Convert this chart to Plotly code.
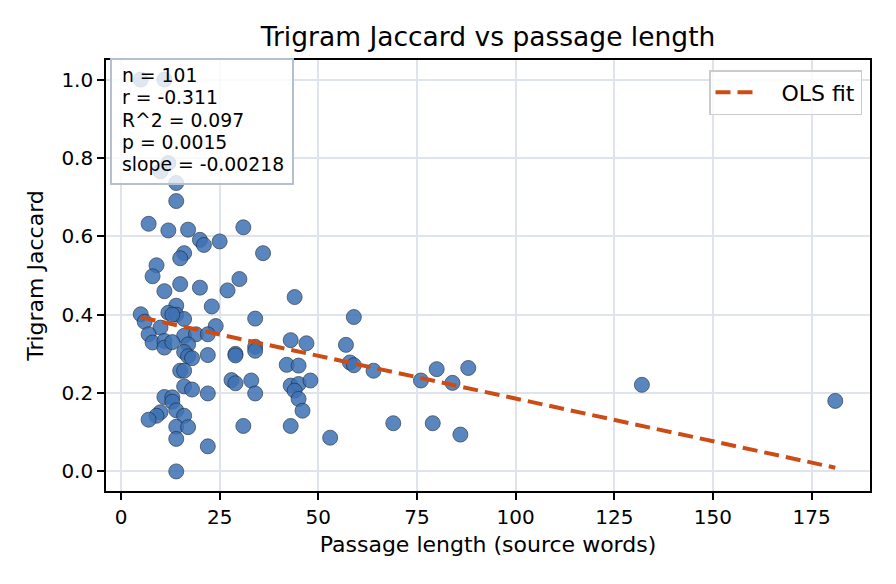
import plotly.graph_objects as go

# Passage length (source words) and trigram Jaccard
passage_length = [5, 11, 12, 10, 14, 14, 7, 12, 17, 31, 20, 21, 25, 36, 16, 15, 9, 8, 30, 15,
                  20, 27, 11, 44, 23, 14, 12, 14, 5, 16, 34, 59, 6, 10, 24, 7, 16, 19, 22, 8,
                  11, 11, 13, 17, 43, 47, 57, 34, 34, 16, 29, 29, 17, 18, 22, 42, 45, 58, 59, 64,
                  88, 80, 76, 84, 132, 15, 16, 28, 29, 33, 43, 45, 48, 44, 16, 18, 22, 34, 11, 13,
                  13, 14, 10, 9, 7, 16, 14, 17, 14, 22, 14, 31, 43, 53, 69, 79, 86, 45, 46, 181,
                  13]
trigram_jaccard = [1.00, 1.00, 0.787, 0.766, 0.736, 0.690, 0.632, 0.615, 0.617, 0.623,
                   0.591, 0.578, 0.587, 0.557, 0.557, 0.544, 0.526, 0.498, 0.491, 0.478,
                   0.469, 0.462, 0.460, 0.445, 0.421, 0.423, 0.405, 0.400, 0.401, 0.389,
                   0.390, 0.394, 0.382, 0.367, 0.371, 0.350, 0.346, 0.350, 0.350, 0.329,
                   0.333, 0.316, 0.330, 0.324, 0.335, 0.327, 0.323, 0.318, 0.308, 0.305,
                   0.300, 0.296, 0.294, 0.289, 0.297, 0.272, 0.270, 0.278, 0.271, 0.257,
                   0.264, 0.261, 0.232, 0.226, 0.221, 0.257, 0.257, 0.233, 0.225, 0.232,
                   0.219, 0.223, 0.232, 0.206, 0.217, 0.209, 0.199, 0.199, 0.190, 0.189,
                   0.178, 0.156, 0.151, 0.142, 0.132, 0.142, 0.114, 0.113, 0.083, 0.064,
                   0.000, 0.116, 0.116, 0.086, 0.123, 0.123, 0.094, 0.185, 0.155, 0.180,
                   0.400]

# OLS fit parameters (from the stats box / line)
fit_slope = -0.00218
fit_intercept = 0.404

stats_lines = ["n = 101", "r = -0.311", "R^2 = 0.097", "p = 0.0015", "slope = -0.00218"]

x_ticks = [0, 25, 50, 75, 100, 125, 150, 175]
y_ticks = [0.0, 0.2, 0.4, 0.6, 0.8, 1.0]

FONT = "DejaVu Sans"

# plot-area geometry (pixels) used to place the stats box
W, H = 896, 584
ML, MR, MT, MB = 106, 26, 60, 93
PW, PH = W - ML - MR, H - MT - MB


def px_x(px):
    return (px - ML) / PW


def px_y(py):
    return (H - MB - py) / PH


fit_x = [min(passage_length), max(passage_length)]
fit_y = [fit_intercept + fit_slope * v for v in fit_x]

fig = go.Figure()
fig.add_trace(go.Scatter(
    x=passage_length, y=trigram_jaccard, mode="markers",
    marker=dict(size=15, color="#3d72b4", opacity=0.85,
                line=dict(color="#1f2d40", width=0.8)),
    showlegend=False, hoverinfo="x+y",
))
fig.add_trace(go.Scatter(
    x=fit_x, y=fit_y, mode="lines", name="\u00a0\u00a0\u00a0OLS fit",
    line=dict(color="#cc4c16", width=4, dash="15px,7px"),
))

axis_common = dict(
    showline=True, linecolor="black", linewidth=1.6, mirror=True,
    ticks="outside", ticklen=7, tickwidth=1.6, tickcolor="black",
    showgrid=True, gridcolor="#dfe4ec", gridwidth=1.5, zeroline=False,
    tickfont=dict(family=FONT, size=20, color="black"),
)

# stats box: a rectangle drawn above the markers plus one text line each
stats_box = dict(type="rect", xref="paper", yref="paper", layer="above",
                 x0=px_x(111), x1=px_x(293), y0=px_y(184), y1=px_y(59),
                 fillcolor="rgba(255,255,255,0.8)",
                 line=dict(color="#b4c0d0", width=2))
line_y = [75, 97.5, 120, 142.5, 165]
stats_annots = [dict(text=t, xref="paper", yref="paper", x=px_x(120), y=px_y(yy),
                     xanchor="left", yanchor="middle", showarrow=False,
                     font=dict(family=FONT, size=18.8, color="black"))
                for t, yy in zip(stats_lines, line_y)]

fig.update_layout(
    width=W, height=H,
    margin=dict(l=ML, r=MR, t=MT, b=MB),
    paper_bgcolor="white", plot_bgcolor="white",
    title=dict(text="Trigram Jaccard vs passage length", x=0.5, xref="paper",
               y=1 - 37 / H, yref="container", xanchor="center", yanchor="middle",
               font=dict(family=FONT, size=26.5, color="black")),
    xaxis=dict(axis_common, range=[-3.8, 189.8], tickvals=x_ticks,
               title=dict(text="Passage length (source words)", standoff=9,
                          font=dict(family=FONT, size=22, color="black"))),
    yaxis=dict(axis_common, range=[-0.05, 1.05], tickvals=y_ticks, tickformat=".1f",
               title=dict(text="Trigram Jaccard", standoff=12,
                          font=dict(family=FONT, size=22, color="black"))),
    legend=dict(x=px_x(862), y=px_y(70), xanchor="right", yanchor="top",
                itemwidth=40,
                bgcolor="rgba(255,255,255,0.8)", bordercolor="#cccccc", borderwidth=1.5,
                font=dict(family=FONT, size=22, color="black")),
    shapes=[stats_box],
    annotations=stats_annots,
)

fig.write_html("out.html")
